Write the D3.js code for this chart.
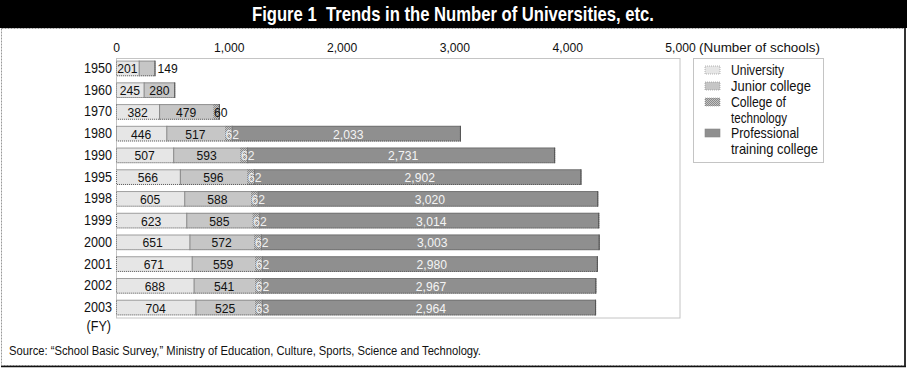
<!DOCTYPE html>
<html>
<head>
<meta charset="utf-8">
<script src="https://cdn.jsdelivr.net/npm/d3@7"></script>
<style>
  html, body { margin: 0; padding: 0; background: #fff; }
  svg text { font-family: "Liberation Sans", Arial, sans-serif; }
</style>
</head>
<body>
<svg id="chart" width="907" height="369"></svg>
<script>
// ---- data ----
const years = ["1950","1960","1970","1980","1990","1995","1998","1999","2000","2001","2002","2003"];
const university   = [201, 245, 382, 446, 507, 566, 605, 623, 651, 671, 688, 704];
const juniorCollege = [149, 280, 479, 517, 593, 596, 588, 585, 572, 559, 541, 525];
const techCollege  = [null, null, 60, 62, 62, 62, 62, 62, 62, 62, 62, 63];
const professional = [null, null, null, 2033, 2731, 2902, 3020, 3014, 3003, 2980, 2967, 2964];
const seriesNames = ["University", "Junior college", "College of technology", "Professional training college"];
const legendLines = [["University"], ["Junior college"], ["College of", "technology"], ["Professional", "training college"]];
const xTicks = [0, 1000, 2000, 3000, 4000, 5000];
const titleText = "Figure 1  Trends in the Number of Universities, etc.";
const unitText = "(Number of schools)";
const fyText = "(FY)";
const sourceText = "Source: \u201cSchool Basic Survey,\u201d Ministry of Education, Culture, Sports, Science and Technology.";

const keys = ["university", "junior", "tech", "prof"];
const rows = years.map((y, i) => ({
  year: y,
  university: university[i],
  junior: juniorCollege[i],
  tech: techCollege[i] || 0,
  prof: professional[i] || 0,
  hasTech: techCollege[i] != null,
  hasProf: professional[i] != null
}));

const svg = d3.select("#chart");
const W = 907, H = 369;
const SX = 0.9; // horizontal condensing of the narrow face

function condense(sel, sx) {
  sel.each(function () {
    const t = d3.select(this);
    const x0 = +(t.attr("x") || 0);
    t.attr("x", x0 / sx).attr("transform", `scale(${sx},1)`);
  });
}

// pattern for college of technology
const defs = svg.append("defs");
const pat = defs.append("pattern").attr("id", "hatch").attr("patternUnits", "userSpaceOnUse")
  .attr("width", 2).attr("height", 2);
pat.append("rect").attr("width", 2).attr("height", 2).attr("fill", "#c4c4c4");
pat.append("rect").attr("width", 1).attr("height", 1).attr("fill", "#8a8a8a");
pat.append("rect").attr("x", 1).attr("y", 1).attr("width", 1).attr("height", 1).attr("fill", "#8a8a8a");

const fills = { university: "#e6e6e6", junior: "#c6c6c6", tech: "url(#hatch)", prof: "#8f8f8f" };

// title bar
svg.append("rect").attr("x", 0).attr("y", 0).attr("width", W).attr("height", 28).attr("fill", "#000");
svg.append("text").attr("x", 252).attr("y", 20.5).attr("fill", "#fff").attr("font-size", 20.5)
  .attr("font-weight", "bold").attr("textLength", 402).attr("lengthAdjust", "spacingAndGlyphs")
  .style("white-space", "pre").attr("xml:space", "preserve")
  .text(titleText);

// frame
svg.append("rect").attr("x", 1.5).attr("y", 28.5).attr("width", 903).attr("height", 337)
  .attr("fill", "#fff").attr("stroke", "#999").attr("stroke-dasharray", "2,1");
svg.append("line").attr("x1", 905).attr("x2", 905).attr("y1", 28).attr("y2", 367).attr("stroke", "#333").attr("stroke-width", 2);
svg.append("line").attr("x1", 1).attr("x2", 906).attr("y1", 366.5).attr("y2", 366.5).attr("stroke", "#111").attr("stroke-width", 1.5);

// scales
const x = d3.scaleLinear().domain([0, 5000]).range([116, 680]);
const y = d3.scaleBand().domain(years).range([58, 318]).paddingInner(0.28).paddingOuter(0.12);

// plot border
svg.append("rect").attr("x", 116.5).attr("y", 58.5).attr("width", 680 - 116.5).attr("height", 318 - 58.5)
  .attr("fill", "none").attr("stroke", "#c4c4c4").attr("stroke-width", 1);

// axes
const xAxis = svg.append("g").attr("transform", "translate(0,58)")
  .call(d3.axisTop(x).tickValues(xTicks).tickFormat(d3.format(",")).tickSize(0).tickPadding(6));
xAxis.select(".domain").remove();
xAxis.selectAll("text").attr("font-size", 13.5).attr("fill", "#111")
  .style("font-family", "'Liberation Sans', Arial, sans-serif");
condense(xAxis.selectAll("text"), SX);
svg.append("text").attr("x", 699).attr("y", 52).attr("font-size", 13.5).attr("fill", "#111")
  .attr("textLength", 121).attr("lengthAdjust", "spacingAndGlyphs").text(unitText);

const yAxis = svg.append("g").attr("transform", "translate(116,0)")
  .call(d3.axisLeft(y).tickSize(0).tickPadding(4));
yAxis.select(".domain").remove();
yAxis.selectAll("text").attr("font-size", 14).attr("fill", "#111")
  .style("font-family", "'Liberation Sans', Arial, sans-serif");
condense(yAxis.selectAll("text"), SX);
const fy = svg.append("text").attr("x", 111).attr("y", 331).attr("text-anchor", "end").attr("font-size", 14)
  .attr("fill", "#111").text(fyText);
condense(fy, SX);

// bars
const stacked = d3.stack().keys(keys)(rows);
const barG = svg.append("g");
stacked.forEach(layer => {
  const k = layer.key;
  barG.append("g").selectAll("rect").data(layer).join("rect")
    .attr("x", d => x(d[0]))
    .attr("y", d => y(d.data.year))
    .attr("width", d => Math.max(0, x(d[1]) - x(d[0])))
    .attr("height", y.bandwidth())
    .attr("fill", fills[k]);
});
// bar outlines
const totals = rows.map(r => r.university + r.junior + r.tech + r.prof);
barG.append("g").selectAll("rect").data(rows).join("rect")
  .attr("x", d => x(0) + 0.5)
  .attr("y", d => y(d.year) + 0.5)
  .attr("width", (d, i) => x(totals[i]) - x(0) - 1)
  .attr("height", y.bandwidth() - 1)
  .attr("fill", "none").attr("stroke", "#5a5a5a").attr("stroke-width", 1).attr("stroke-dasharray", "1,1");
barG.append("g").selectAll("line").data(rows).join("line")
  .attr("x1", (d, i) => x(totals[i]) - 0.5).attr("x2", (d, i) => x(totals[i]) - 0.5)
  .attr("y1", d => y(d.year)).attr("y2", d => y(d.year) + y.bandwidth())
  .attr("stroke", "#555").attr("stroke-width", 1);
// segment separators
barG.append("g").selectAll("line").data(rows).join("line")
  .attr("x1", d => x(d.university) + 0.5).attr("x2", d => x(d.university) + 0.5)
  .attr("y1", d => y(d.year)).attr("y2", d => y(d.year) + y.bandwidth())
  .attr("stroke", "#888").attr("stroke-width", 1);
barG.append("g").selectAll("line").data(rows.filter(r => r.hasProf)).join("line")
  .attr("x1", d => x(d.university + d.junior + d.tech) + 0.5).attr("x2", d => x(d.university + d.junior + d.tech) + 0.5)
  .attr("y1", d => y(d.year)).attr("y2", d => y(d.year) + y.bandwidth())
  .attr("stroke", "#777").attr("stroke-width", 1);

// labels
const lab = svg.append("g").attr("font-size", 13.5);
const ty = d => y(d.year) + y.bandwidth() / 2 + 5;
const fmt = d3.format(",");
lab.selectAll(".lu").data(rows).join("text")
  .attr("x", d => (x(0) + x(d.university)) / 2).attr("y", ty)
  .attr("text-anchor", "middle").attr("fill", "#111").text(d => fmt(d.university));
const jw = d => x(d.university + d.junior) - x(d.university);
lab.selectAll(".lj").data(rows).join("text")
  .attr("x", d => jw(d) < 22 ? x(d.university + d.junior) + 2 : (x(d.university) + x(d.university + d.junior)) / 2)
  .attr("y", ty)
  .attr("text-anchor", d => jw(d) < 22 ? "start" : "middle")
  .attr("fill", "#111").text(d => fmt(d.junior));
lab.selectAll(".lt").data(rows.filter(r => r.hasTech)).join("text")
  .attr("x", d => x(d.university + d.junior) + 1).attr("y", ty)
  .attr("fill", d => d.hasProf ? "#f0f0f0" : "#111").text(d => fmt(d.tech));
lab.selectAll(".lp").data(rows.filter(r => r.hasProf)).join("text")
  .attr("x", d => (x(d.university + d.junior + d.tech) + x(d.university + d.junior + d.tech + d.prof)) / 2 + 2)
  .attr("y", ty).attr("text-anchor", "middle").attr("fill", "#f4f4f4").text(d => fmt(d.prof));
condense(lab.selectAll("text"), SX);

// legend
const lg = svg.append("g");
lg.append("rect").attr("x", 693.5).attr("y", 58.5).attr("width", 130).attr("height", 104)
  .attr("fill", "#fff").attr("stroke", "#c4c4c4");
const legendY = [70, 86, 102, 133];
const legendW = [[53], [80], [55, 56], [68, 87]];
keys.forEach((k, i) => {
  lg.append("rect").attr("x", 705).attr("y", legendY[i] - 4).attr("width", 15).attr("height", 8)
    .attr("fill", fills[k]).attr("stroke", "#888").attr("stroke-width", 0.6)
    .attr("stroke-dasharray", k === "prof" ? null : "1,1");
  legendLines[i].forEach((t, j) => {
    lg.append("text").attr("x", 731).attr("y", legendY[i] + 5 + j * 15.5).attr("font-size", 14.5)
      .attr("textLength", legendW[i][j]).attr("lengthAdjust", "spacingAndGlyphs")
      .attr("fill", "#111").text(t);
  });
});

// source
svg.append("text").attr("x", 9).attr("y", 355).attr("font-size", 12.5).attr("fill", "#111")
  .attr("textLength", 472).attr("lengthAdjust", "spacingAndGlyphs").text(sourceText);
</script>
</body>
</html>
